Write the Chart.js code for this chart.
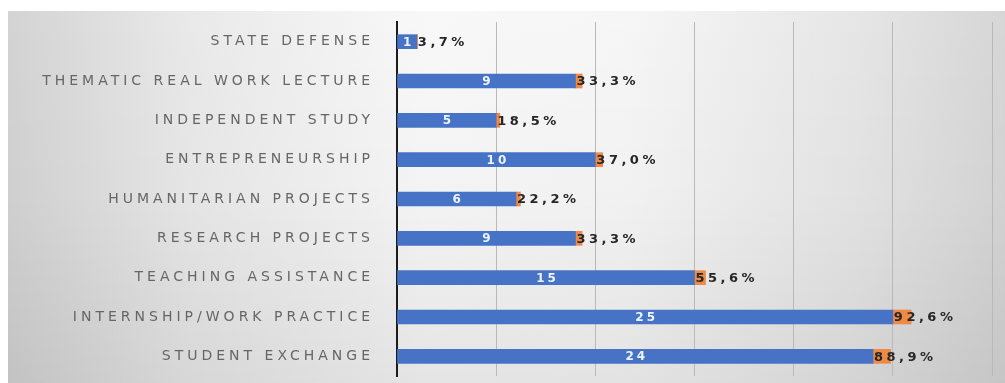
<!DOCTYPE html>
<html>
<head>
<meta charset="utf-8">
<script src="https://cdn.jsdelivr.net/npm/chart.js@4/dist/chart.umd.min.js"></script>
<style>
  html, body { margin: 0; padding: 0; background: #fff; }
  #box {
    position: absolute; left: 8px; top: 11px; width: 997px; height: 372px;
    background:
      linear-gradient(180deg, rgba(0,0,0,0) 0%, rgba(0,0,0,0.02) 50%, rgba(0,0,0,0.08) 100%),
      linear-gradient(90deg, #d3d3d3 0%, #e9e9e9 18%, #f8f8f8 42%, #f6f6f6 62%, #e6e6e6 85%, #d6d6d6 100%);
  }
</style>
</head>
<body>
<div id="box"><canvas id="myChart" width="997" height="372"></canvas></div>
<script>
var categories = [
  'STATE DEFENSE',
  'THEMATIC REAL WORK LECTURE',
  'INDEPENDENT STUDY',
  'ENTREPRENEURSHIP',
  'HUMANITARIAN PROJECTS',
  'RESEARCH PROJECTS',
  'TEACHING ASSISTANCE',
  'INTERNSHIP/WORK PRACTICE',
  'STUDENT EXCHANGE'
];
var counts = [1, 9, 5, 10, 6, 9, 15, 25, 24];
var shares = [0.037, 0.333, 0.185, 0.370, 0.222, 0.333, 0.556, 0.926, 0.889];
var xTicks = [0, 5, 10, 15, 20, 25, 30];

// labels on the bars: count inside the blue, share after it
var barLabels = {
  id: 'barLabels',
  beforeDraw: function(chart){
    chart.ctx.letterSpacing = '4px';
  },
  afterDatasetsDraw: function(chart){
    var ctx = chart.ctx;
    var blue = chart.getDatasetMeta(0).data;
    var orange = chart.getDatasetMeta(1).data;
    ctx.save();
    ctx.textBaseline = 'middle';
    for (var i = 0; i < counts.length; i++){
      var b = blue[i];
      ctx.letterSpacing = '3px';
      ctx.font = 'bold 12px "DejaVu Sans"';
      ctx.fillStyle = '#eef3fb';
      ctx.textAlign = 'center';
      ctx.fillText(String(counts[i]), (b.x + b.base) / 2 + 1.5, b.y + 1);
      var o = orange[i];
      ctx.letterSpacing = '3.5px';
      ctx.font = 'bold 13px "DejaVu Sans"';
      ctx.fillStyle = '#262626';
      ctx.textAlign = 'left';
      ctx.fillText((shares[i] * 100).toFixed(1).replace('.', ',') + '%', o.base + 1, o.y + 1);
    }
    ctx.restore();
  }
};

var ctx = document.getElementById('myChart').getContext('2d');
var chart = new Chart(ctx, {
  type: 'bar',
  data: {
    labels: categories,
    datasets: [{
      label: 'Count',
      backgroundColor: '#4673c6',
      data: counts,
      barThickness: 14
    },
    {
      label: 'Share',
      backgroundColor: '#ee8a45',
      data: shares,
      barThickness: 14
    }]
  },
  options: {
    indexAxis: 'y',
    responsive: false,
    animation: false,
    devicePixelRatio: 1,
    layout: { padding: { top: 11, bottom: 7, right: 13, left: 0 } },
    plugins: { legend: { display: false }, tooltip: { enabled: false } },
    scales: {
      x: {
        stacked: true,
        min: xTicks[0],
        max: xTicks[xTicks.length - 1],
        afterBuildTicks: function(scale){
          scale.ticks = xTicks.map(function(v){ return { value: v }; });
        },
        afterFit: function(scale){
          scale.height = 0;
          scale.paddingLeft = 0; scale.paddingRight = 0;
        },
        ticks: { display: false },
        grid: { color: '#b9b9b9', lineWidth: 1, drawTicks: false },
        border: { display: false }
      },
      y: {
        stacked: true,
        afterFit: function(scale){
          scale.width = 389;
          scale.paddingTop = 0; scale.paddingBottom = 0;
        },
        ticks: {
          color: '#666666',
          padding: 23,
          font: { family: '"DejaVu Sans"', size: 14 }
        },
        grid: { display: false, drawTicks: false },
        border: { display: true, color: '#1c1c1c', width: 2 }
      }
    }
  },
  plugins: [barLabels]
});
</script>
</body>
</html>
